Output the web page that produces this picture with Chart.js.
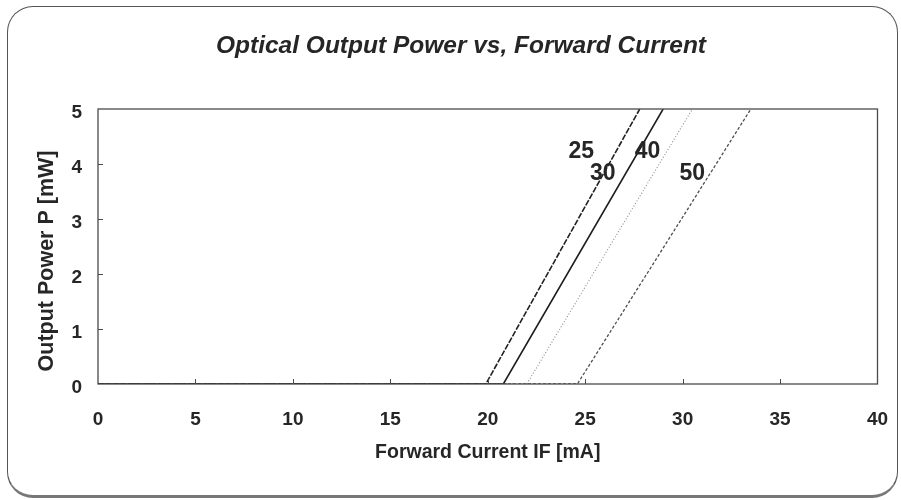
<!DOCTYPE html>
<html>
<head>
<meta charset="utf-8">
<script src="https://cdn.jsdelivr.net/npm/chart.js@4/dist/chart.umd.min.js"></script>
<style>
  html, body { margin: 0; padding: 0; background: #fff; }
  #wrap { position: relative; width: 901px; height: 500px; overflow: hidden; }
  #frame {
    position: absolute; left: 7px; top: 6px; width: 891px; height: 492px;
    box-sizing: border-box; border: 1px solid #555; border-bottom: 3px solid #777;
    border-radius: 26px;
  }
  canvas { position: absolute; left: 0; top: 0; }
</style>
</head>
<body>
<div id="wrap">
  <div id="frame"></div>
  <canvas id="c" width="901" height="500"></canvas>
</div>
<script>
// Case temperature of each curve (°C), used as the curve labels
const temperatures = ['25', '30', '40', '50'];
// Forward current where the output starts rising (P = 0), mA
const thresholdCurrent = [19.9, 20.8, 22.0, 24.6];
// Forward current at P = 5 mW, mA
const currentAt5mW = [27.8, 29.0, 30.5, 33.5];
// Where each temperature label sits, in data units
const labelCurrent = [24.8, 25.9, 28.2, 30.5];
const labelPower = [4.22, 3.82, 4.22, 3.82];
// Axis ticks
const xTicks = [0, 5, 10, 15, 20, 25, 30, 35, 40];
const yTicks = [0, 1, 2, 3, 4, 5];

const lineColors = ['#222222', '#1e1e1e', '#8a8a8a', '#4e4e4e'];
const lineWidths = [1.6, 1.6, 1.1, 1.3];
const lineDashes = [[6, 1.5], [], [1, 2], [3, 2]];

const FONT = "'Liberation Sans', Arial, sans-serif";
const INK = '#262626';

const datasets = temperatures.map((t, i) => ({
  label: t + ' °C',
  data: [
    { x: 0, y: 0 },
    { x: thresholdCurrent[i], y: 0 },
    { x: currentAt5mW[i], y: 5 }
  ],
  showLine: true,
  borderColor: lineColors[i],
  borderWidth: lineWidths[i],
  borderDash: lineDashes[i],
  pointRadius: 0,
  tension: 0
}));

// Frame, inward tick marks and all free text
const decorations = {
  id: 'decorations',
  afterDatasetsDraw(chart) {
    const { ctx, chartArea: a, scales: { x, y } } = chart;
    ctx.save();
    // plot frame
    ctx.strokeStyle = '#4a4a4a';
    ctx.lineWidth = 1.3;
    ctx.strokeRect(a.left, a.top, a.right - a.left, a.bottom - a.top);
    // inward ticks
    ctx.lineWidth = 1;
    ctx.beginPath();
    xTicks.slice(1, -1).forEach(v => {
      const px = Math.round(x.getPixelForValue(v)) + 0.5;
      ctx.moveTo(px, a.bottom); ctx.lineTo(px, a.bottom - 5);
    });
    yTicks.slice(1, -1).forEach(v => {
      const py = Math.round(y.getPixelForValue(v)) + 0.5;
      ctx.moveTo(a.left, py); ctx.lineTo(a.left + 5, py);
    });
    ctx.stroke();
    // curve labels
    ctx.fillStyle = INK;
    ctx.font = 'bold 23px ' + FONT;
    ctx.textAlign = 'center';
    ctx.textBaseline = 'middle';
    temperatures.forEach((t, i) => {
      ctx.fillText(t, x.getPixelForValue(labelCurrent[i]), y.getPixelForValue(labelPower[i]));
    });
    // chart title
    ctx.font = 'italic bold 24.5px ' + FONT;
    ctx.fillText('Optical Output Power vs, Forward Current', 461, 46);
    // y axis title
    ctx.translate(47, 261);
    ctx.rotate(-Math.PI / 2);
    ctx.font = 'bold 21.5px ' + FONT;
    ctx.fillText('Output Power P [mW]', 0, 0);
    ctx.restore();
  }
};

new Chart(document.getElementById('c'), {
  type: 'scatter',
  data: { datasets },
  options: {
    responsive: false,
    animation: false,
    layout: { autoPadding: false, padding: { left: 0, right: 23.5, top: 109, bottom: 0 } },
    plugins: { legend: { display: false }, tooltip: { enabled: false }, title: { display: false } },
    scales: {
      x: {
        type: 'linear', min: 0, max: 40,
        afterBuildTicks: s => { s.ticks = xTicks.map(v => ({ value: v })); },
        afterFit: s => { s.height = 116; s.paddingLeft = 0; s.paddingRight = 0; },
        grid: { display: false, drawTicks: false },
        border: { display: false },
        ticks: { padding: 24, color: INK, font: { family: FONT, size: 19, weight: 'bold' } },
        title: {
          display: true, text: 'Forward Current IF [mA]', color: INK,
          font: { family: FONT, size: 19.5, weight: 'bold' },
          padding: { top: 0, bottom: 36 }
        }
      },
      y: {
        type: 'linear', min: 0, max: 5,
        afterBuildTicks: s => { s.ticks = yTicks.map(v => ({ value: v })); },
        afterFit: s => { s.width = 98; s.paddingTop = 0; s.paddingBottom = 0; },
        grid: { display: false, drawTicks: false },
        border: { display: false },
        ticks: { padding: 16, labelOffset: 4, color: INK, font: { family: FONT, size: 19, weight: 'bold' } }
      }
    }
  },
  plugins: [decorations]
});
</script>
</body>
</html>
